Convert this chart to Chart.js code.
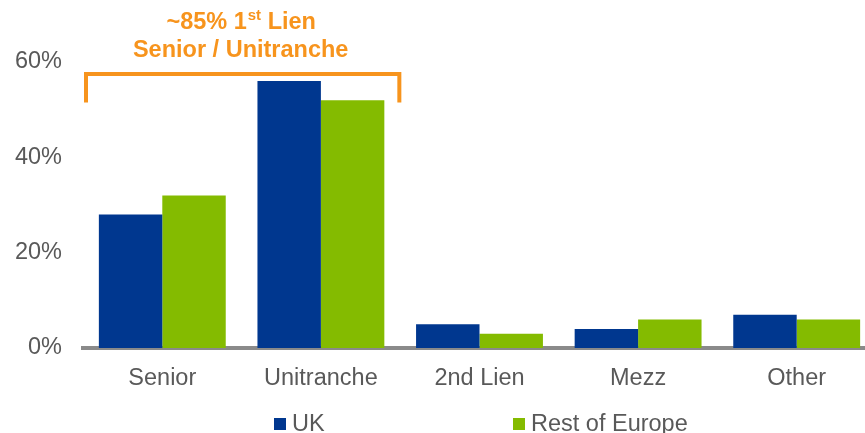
<!DOCTYPE html>
<html>
<head>
<meta charset="utf-8">
<script src="https://cdn.jsdelivr.net/npm/chart.js@4"></script>
<style>
  html, body { margin: 0; padding: 0; background: #fff; overflow: hidden; }
  /* plot runs a little past the right edge of the page */
  #wrap { width: 880px; height: 433px; }
</style>
</head>
<body>
<div id="wrap"><canvas id="chartDisplay"></canvas></div>
<script>
// deal share by debt type
const categories = ['Senior', 'Unitranche', '2nd Lien', 'Mezz', 'Other'];
const ukValues = [28, 56, 5, 4, 7];
const europeValues = [32, 52, 3, 6, 6];
const yTicks = [0, 20, 40, 60];

const blue = '#00378f';
const green = '#84bb00';
const orange = '#f7941d';
const grey = '#595959';
const fontFamily = 'Arial, "Liberation Sans", sans-serif';

Chart.defaults.font.family = fontFamily;
Chart.defaults.font.size = 23.5;
Chart.defaults.color = grey;

// orange bracket over senior + unitranche with its caption
const bracketPlugin = {
  id: 'bracket',
  afterDraw(chart) {
    const ctx = chart.ctx;
    const y = chart.scales.y;
    const green1 = chart.getDatasetMeta(1).data[1];
    const left = chart.chartArea.left + 3;
    const right = green1.x + green1.width / 2 + 15;
    const top = y.getPixelForValue(57.5);
    const bottom = y.getPixelForValue(51.5);

    ctx.save();
    ctx.strokeStyle = orange;
    ctx.lineWidth = 4;
    ctx.lineJoin = 'miter';
    ctx.beginPath();
    ctx.moveTo(left, bottom);
    ctx.lineTo(left, top);
    ctx.lineTo(right, top);
    ctx.lineTo(right, bottom);
    ctx.stroke();

    // caption, first line has a superscript "st"
    const cx = (left + right) / 2 - 2;
    ctx.fillStyle = orange;
    ctx.textBaseline = 'alphabetic';
    const big = 'bold 23.5px ' + fontFamily;
    const small = 'bold 15px ' + fontFamily;
    const partA = '~85% 1';
    const partB = 'st';
    const partC = ' Lien';
    ctx.font = big;
    const wA = ctx.measureText(partA).width;
    const wC = ctx.measureText(partC).width;
    ctx.font = small;
    const wB = ctx.measureText(partB).width;
    let x = cx - (wA + wB + wC) / 2;
    ctx.textAlign = 'left';
    ctx.font = big;
    ctx.fillText(partA, x, 29);
    x += wA;
    ctx.font = small;
    ctx.fillText(partB, x + 1, 20);
    x += wB + 1;
    ctx.font = big;
    ctx.fillText(partC, x, 29);

    ctx.textAlign = 'center';
    ctx.fillText('Senior / Unitranche', cx, 57);
    ctx.restore();
  }
};

// legend with wide gap between the two items
const legendPlugin = {
  id: 'wideLegend',
  afterDraw(chart) {
    const ctx = chart.ctx;
    const starts = [274, 513];
    ctx.save();
    ctx.font = '23.5px ' + fontFamily;
    ctx.textBaseline = 'alphabetic';
    ctx.textAlign = 'left';
    chart.data.datasets.forEach((ds, i) => {
      const x = starts[i];
      ctx.fillStyle = ds.backgroundColor;
      ctx.fillRect(x, 418, 12, 12);
      ctx.fillStyle = grey;
      ctx.fillText(ds.label, x + 18, 431);
    });
    ctx.restore();
  }
};

new Chart(document.getElementById('chartDisplay'), {
  type: 'bar',
  data: {
    labels: categories,
    datasets: [
      { label: 'UK', data: ukValues, backgroundColor: blue },
      { label: 'Rest of Europe', data: europeValues, backgroundColor: green }
    ]
  },
  options: {
    responsive: true,
    maintainAspectRatio: false,
    animation: false,
    datasets: {
      bar: { categoryPercentage: 0.8, barPercentage: 1 }
    },
    layout: { padding: { top: 62, right: 4, left: 0, bottom: 0 } },
    plugins: {
      legend: { display: false },
      tooltip: { enabled: false }
    },
    scales: {
      x: {
        grid: { display: false },
        border: { display: true, color: '#8a8a8a', width: 4 },
        ticks: { color: grey, padding: 8 },
        afterFit(scale) { scale.height = 85; }
      },
      y: {
        min: 0,
        max: 60,
        afterBuildTicks(scale) {
          scale.ticks = yTicks.map(v => ({ value: v }));
        },
        grid: { display: false },
        border: { display: false },
        ticks: {
          color: grey,
          padding: 13,
          callback: v => v + '%'
        },
        afterFit(scale) { scale.width = 83; }
      }
    }
  },
  plugins: [bracketPlugin, legendPlugin]
});
</script>
</body>
</html>
